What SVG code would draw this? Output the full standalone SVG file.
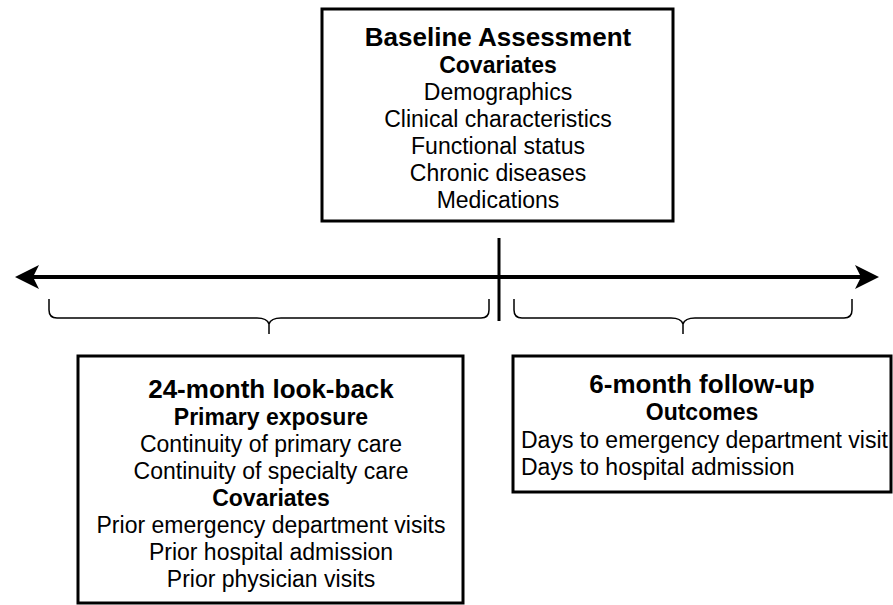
<svg xmlns="http://www.w3.org/2000/svg" width="893" height="605" viewBox="0 0 893 605">
<style>
.box{fill:#fff;stroke:#000;stroke-width:3}
.t{font-family:"Liberation Sans",Arial,sans-serif;fill:#000}
.h{font-size:26px;font-weight:bold}
.s{font-size:23px;font-weight:bold}
.i{font-size:23px}
.c{text-anchor:middle}
.brace{fill:none;stroke:#000;stroke-width:1.5}
</style>
<rect width="893" height="605" fill="#fff"/>
<g id="connectors">
<line x1="30" y1="277" x2="864" y2="277" stroke="#000" stroke-width="4"/>
<path d="M15,277 L39,265 L33,277 L39,289 Z" fill="#000"/>
<path d="M879,277 L855,265 L861,277 L855,289 Z" fill="#000"/>
<line x1="499" y1="238" x2="499" y2="321" stroke="#000" stroke-width="3"/>
<path class="brace" d="M49,299 V310 Q49,318 57,318 H257 Q267,318 269,324 V334 M489,299 V310 Q489,318 481,318 H281 Q271,318 269,324"/>
<path class="brace" d="M514,299 V310 Q514,318 522,318 H671 Q681,318 683,324 V334 M852,299 V310 Q852,318 844,318 H695 Q685,318 683,324"/>
</g>
<g id="baseline">
<rect class="box" x="322" y="9" width="351" height="212"/>
<text class="t h c" x="498" y="46">Baseline Assessment</text>
<text class="t s c" x="498" y="73">Covariates</text>
<text class="t i c" x="498" y="100">Demographics</text>
<text class="t i c" x="498" y="127">Clinical characteristics</text>
<text class="t i c" x="498" y="154">Functional status</text>
<text class="t i c" x="498" y="181">Chronic diseases</text>
<text class="t i c" x="498" y="208">Medications</text>
</g>
<g id="lookback">
<rect class="box" x="78" y="356" width="385" height="247"/>
<text class="t h c" x="271" y="398">24-month look-back</text>
<text class="t s c" x="271" y="425">Primary exposure</text>
<text class="t i c" x="271" y="452">Continuity of primary care</text>
<text class="t i c" x="271" y="479">Continuity of specialty care</text>
<text class="t s c" x="271" y="506">Covariates</text>
<text class="t i c" x="271" y="533">Prior emergency department visits</text>
<text class="t i c" x="271" y="560">Prior hospital admission</text>
<text class="t i c" x="271" y="587">Prior physician visits</text>
</g>
<g id="followup">
<rect class="box" x="513" y="356" width="378" height="136"/>
<text class="t h c" x="702" y="393">6-month follow-up</text>
<text class="t s c" x="702" y="420">Outcomes</text>
<text class="t i" x="521" y="448">Days to emergency department visit</text>
<text class="t i" x="521" y="475">Days to hospital admission</text>
</g>
</svg>
